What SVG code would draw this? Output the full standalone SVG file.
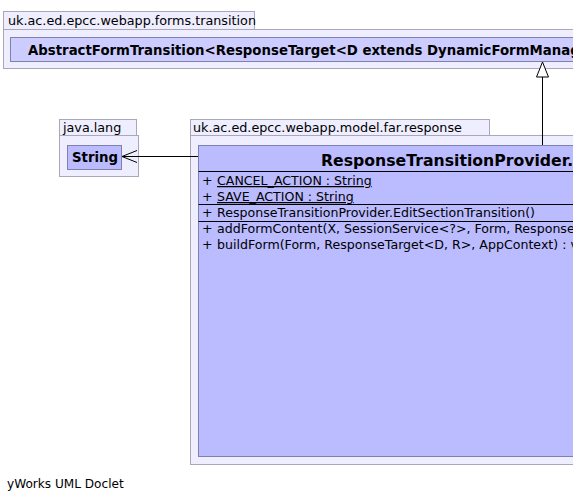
<svg xmlns="http://www.w3.org/2000/svg" width="573" height="502" viewBox="0 0 573 502">
<style>
.pkg{fill:#eeeeff;stroke:#a8a8b8;stroke-width:1}
.cls{fill:#bbbbff;stroke:#8080b0;stroke-width:1}
.t{font-family:"DejaVu Sans",sans-serif;font-size:12.75px;fill:#000}
.m{font-size:12.6px}
.b{font-weight:bold}
.line{stroke:#000;stroke-width:1;fill:none}
</style>
<rect width="573" height="502" fill="#ffffff"/>
<g id="pkg-forms-transition">
<rect class="pkg" x="3.5" y="11.5" width="251" height="18"/>
<rect class="pkg" x="3.5" y="29.5" width="580" height="39"/>
<text class="t" x="8" y="25">uk.ac.ed.epcc.webapp.forms.transition</text>
</g>
<g id="AbstractFormTransition">
<rect class="cls" x="10.5" y="37.5" width="580" height="24" style="fill:#ccccff"/>
<text class="t b" x="28" y="54.5" style="font-size:13.3px">AbstractFormTransition&lt;ResponseTarget&lt;D extends DynamicFormManager</text>
</g>
<g id="pkg-java-lang">
<rect class="pkg" x="59.5" y="119.5" width="77" height="16"/>
<rect class="pkg" x="59.5" y="135.5" width="79" height="41"/>
<text class="t" x="63" y="132">java.lang</text>
</g>
<g id="String">
<rect class="cls" x="67.5" y="145.5" width="54" height="24"/>
<text class="t b" x="72" y="161.5" style="font-size:13.3px">String</text>
</g>
<g id="pkg-model-far-response">
<rect class="pkg" x="190.5" y="119.5" width="299" height="16"/>
<rect class="pkg" x="190.5" y="135.5" width="400" height="329"/>
<text class="t" x="193" y="132">uk.ac.ed.epcc.webapp.model.far.response</text>
</g>
<g id="ResponseTransitionProvider.EditSectionTransition">
<rect class="cls" x="198.5" y="145.5" width="400" height="311"/>
<text class="t b" x="321" y="166" style="font-size:15.7px">ResponseTransitionProvider.EditSectionTransition</text>
<line class="line" x1="198.5" y1="171.5" x2="573" y2="171.5"/>
<text class="t m" x="202" y="185">+</text>
<text class="t m" x="217" y="185" text-decoration="underline">CANCEL_ACTION : String</text>
<text class="t m" x="202" y="201">+</text>
<text class="t m" x="217" y="201" text-decoration="underline">SAVE_ACTION : String</text>
<line class="line" x1="198.5" y1="204.5" x2="573" y2="204.5"/>
<text class="t m" x="202" y="217">+</text>
<text class="t m" x="217" y="217">ResponseTransitionProvider.EditSectionTransition()</text>
<line class="line" x1="198.5" y1="221.5" x2="573" y2="221.5"/>
<text class="t m" x="202" y="233">+</text>
<text class="t m" x="217" y="233">addFormContent(X, SessionService&lt;?&gt;, Form, ResponseTarget&lt;D, R&gt;) : void</text>
<text class="t m" x="202" y="249">+</text>
<text class="t m" x="217" y="249">buildForm(Form, ResponseTarget&lt;D, R&gt;, AppContext) : void</text>
</g>
<g id="connectors">
<line class="line" x1="542.5" y1="145" x2="542.5" y2="77"/>
<polygon points="542.5,62 536.5,77 548.5,77" fill="#ffffff" stroke="#000" stroke-width="1"/>
<line class="line" x1="198" y1="156.5" x2="122" y2="156.5"/>
<polyline class="line" points="137,150.5 122,156.5 137,162.5"/>
</g>
<text class="t" x="7" y="488" style="font-size:12.1px">yWorks UML Doclet</text>
</svg>
